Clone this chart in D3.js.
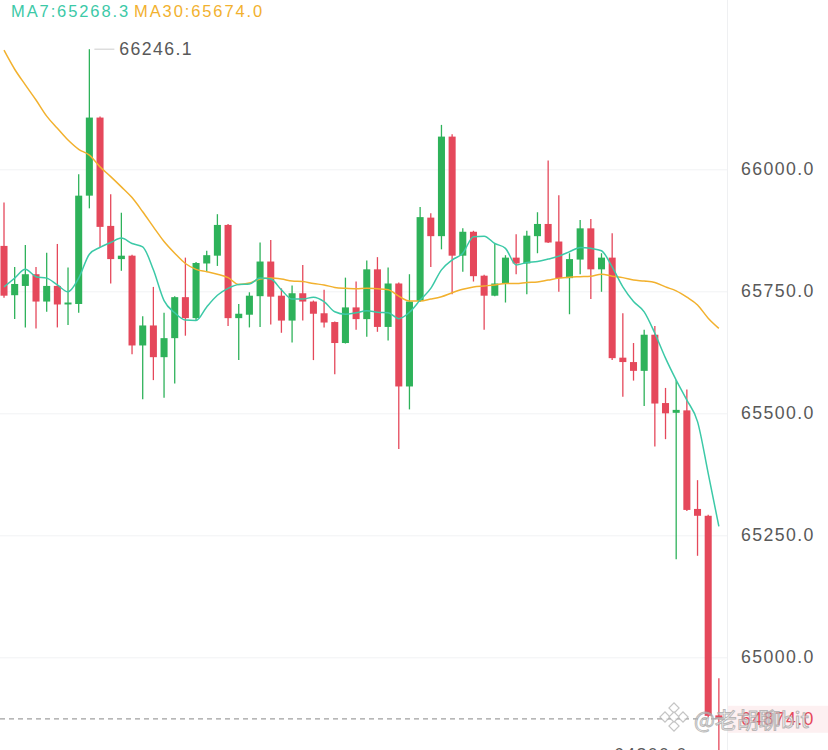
<!DOCTYPE html>
<html><head><meta charset="utf-8">
<script src="https://cdn.jsdelivr.net/npm/d3@7"></script>
<style>html,body{margin:0;padding:0;background:#fff;overflow:hidden}svg{display:block}</style>
</head><body>
<svg id="chart" width="828" height="750"></svg>
<script>
const opens = [65843,65742,65761,65785,65729,65761,65723,65724,65946,66106,65884,65816,65823,65639,65680,65615,65654,65738,65695,65807,65823,65886,65695,65702,65740,65811,65741,65690,65746,65729,65705,65687,65644,65717,65693,65795,65677,65766,65555,65730,65901,65863,66067,65823,65872,65782,65741,65766,65819,65807,65863,65888,65852,65777,65815,65879,65795,65819,65614,65605,65587,65661,65521,65501,65506,65304,65290,64881];
const highs = [65932,65800,65845,65800,65829,65847,65799,65990,66246.1,66108,65949,65911,65825,65699,65759,65706,65740,65819,65810,65833,65908,65888,65724,65748,65850,65855,65756,65762,65804,65731,65753,65688,65778,65770,65813,65820,65799,65768,65785,65923,65910,66091,66072,65879,65874,65784,65848,65824,65867,65874,65912,66018,65947,65828,65896,65898,65828,65869,65705,65644,65671,65679,65552,65568,65549,65363,65292,64957];
const lows = [65737,65693,65676,65674,65708,65676,65681,65706,65920,65840,65766,65792,65621,65529,65568,65532,65561,65659,65691,65790,65802,65679,65609,65676,65677,65682,65665,65645,65690,65609,65676,65580,65643,65671,65657,65667,65649,65427,65508,65728,65800,65836,65744,65790,65770,65671,65740,65727,65785,65744,65828,65849,65749,65703,65785,65734,65749,65609,65534,65567,65515,65432,65447,65201,65300,65208,64877,64800];
const closes = [65741,65765,65785,65729,65761,65723,65727,65946,66106,65882,65816,65823,65639,65680,65615,65654,65738,65695,65808,65824,65886,65695,65704,65741,65811,65739,65690,65746,65729,65704,65686,65644,65717,65693,65795,65677,65766,65555,65729,65902,65863,66067,65823,65872,65781,65741,65766,65819,65807,65864,65888,65850,65777,65816,65879,65795,65819,65613,65605,65587,65661,65520,65500,65507,65302,65290,64880,64874];
const ma7 = [65759,65777,65795,65780,65777,65763,65749,65777,65826,65840,65850,65859,65848,65841,65794,65731,65706,65691,65690,65718,65742,65756,65764,65765,65777,65775,65753,65734,65734,65738,65729,65708,65703,65706,65710,65707,65706,65694,65707,65732,65756,65794,65814,65828,65862,65863,65848,65838,65804,65809,65811,65816,65822,65831,65840,65838,65833,65800,65759,65729,65708,65664,65613,65568,65527,65483,65377,65268.3];
const ma30 = [66244,66205,66173,66142,66109,66084,66060,66041,66029,66005,65985,65964,65942,65913,65882,65852,65828,65807,65795,65790,65785,65778,65764,65767,65775,65777,65775,65771,65770,65766,65763,65758,65756,65755,65756,65755,65753,65740,65730,65730,65734,65739,65747,65754,65759,65761,65763,65766,65766,65768,65769,65773,65777,65779,65780,65781,65785,65781,65778,65773,65771,65768,65759,65751,65738,65722,65695,65674.0];
const yTicks = [65000, 65250, 65500, 65750, 66000];
const lastPrice = 64874.0;
const maxPrice = 66246.1;
const minPrice = 64800.0;
const watermark = "@老胡聊bit";

const W = 828, H = 750, plotRight = 727;
const UP = "#2eb25a", DOWN = "#e5485b", C7 = "#3cc9a7", C30 = "#f2b12e";
const svg = d3.select("#chart");
const n = closes.length;

const x = d3.scaleBand().domain(d3.range(n)).range([-1.33, 724.2]).paddingInner(0.34).paddingOuter(0.17);
const cx = i => x(i) + x.bandwidth() / 2;
const y = d3.scaleLinear().domain([65000, 66000]).range([657.3, 169.3]);

svg.append("defs").append("clipPath").attr("id", "plot")
  .append("rect").attr("x", 0).attr("y", 0).attr("width", plotRight).attr("height", H);

// grid
const grid = svg.append("g").attr("transform", "translate(0,0)")
  .call(d3.axisRight(y).tickValues(yTicks).tickSize(plotRight).tickFormat(""));
grid.select(".domain").remove();
grid.selectAll(".tick line").attr("stroke", "#f1f2f4").attr("stroke-width", 1);

// separator
svg.append("line").attr("x1", plotRight + 0.5).attr("x2", plotRight + 0.5).attr("y1", 0).attr("y2", H)
  .attr("stroke", "#eff0f2").attr("stroke-width", 1);

// axis labels
const axis = svg.append("g").attr("transform", `translate(${plotRight},0)`)
  .call(d3.axisRight(y).tickValues(yTicks).tickSize(0).tickPadding(14).tickFormat(d3.format(".1f")));
axis.select(".domain").remove();
axis.selectAll("text").attr("fill", "#595959").attr("font-family", "'Liberation Sans', Arial, sans-serif")
  .attr("font-size", "17.7px").attr("letter-spacing", "1.4px");

const plot = svg.append("g").attr("clip-path", "url(#plot)");

// candles
const idx = d3.range(n);
plot.selectAll(".wick").data(idx).join("line")
  .attr("x1", cx).attr("x2", cx)
  .attr("y1", i => y(highs[i])).attr("y2", i => y(lows[i]))
  .attr("stroke", i => closes[i] >= opens[i] ? UP : DOWN).attr("stroke-width", 1.3);
plot.selectAll(".body").data(idx).join("rect")
  .attr("x", i => x(i)).attr("width", x.bandwidth())
  .attr("y", i => y(Math.max(opens[i], closes[i])))
  .attr("height", i => Math.max(1.6, Math.abs(y(opens[i]) - y(closes[i]))))
  .attr("fill", i => closes[i] >= opens[i] ? UP : DOWN);

// MA lines
const line = arr => d3.line().x((d, i) => cx(i)).y(d => y(d)).curve(d3.curveMonotoneX)(arr);
plot.append("path").attr("d", line(ma30)).attr("fill", "none").attr("stroke", C30).attr("stroke-width", 1.5);
plot.append("path").attr("d", line(ma7)).attr("fill", "none").attr("stroke", C7).attr("stroke-width", 1.5);

// last price dashed line
svg.append("line").attr("x1", 0).attr("x2", plotRight).attr("y1", y(lastPrice)).attr("y2", y(lastPrice))
  .attr("stroke", "#a0a0a0").attr("stroke-width", 1.2).attr("stroke-dasharray", "5,4");
svg.append("rect").attr("x", plotRight + 1).attr("y", y(lastPrice) - 13).attr("width", W - plotRight).attr("height", 27)
  .attr("fill", "#fdf0f1");
svg.append("text").attr("x", plotRight + 14).attr("y", y(lastPrice)).attr("dy", "0.35em")
  .attr("fill", DOWN).attr("font-family", "'Liberation Sans', Arial, sans-serif")
  .attr("font-size", "17.7px").attr("letter-spacing", "1.4px").text(d3.format(".1f")(lastPrice));

// max label
const iMax = highs.indexOf(d3.max(highs));
svg.append("line").attr("x1", cx(iMax) + 5).attr("x2", cx(iMax) + 25).attr("y1", y(maxPrice)).attr("y2", y(maxPrice))
  .attr("stroke", "#d5d5d5").attr("stroke-width", 1.2);
svg.append("text").attr("x", cx(iMax) + 30).attr("y", y(maxPrice)).attr("dy", "0.35em")
  .attr("fill", "#595959").attr("font-family", "'Liberation Sans', Arial, sans-serif")
  .attr("font-size", "17.7px").attr("letter-spacing", "1.4px").text(d3.format(".1f")(maxPrice));

// min label
const iMin = lows.indexOf(d3.min(lows));
svg.append("line").attr("x1", cx(iMin) - 5).attr("x2", cx(iMin) - 27).attr("y1", y(minPrice)).attr("y2", y(minPrice))
  .attr("stroke", "#d5d5d5").attr("stroke-width", 1.2);
svg.append("text").attr("x", cx(iMin) - 31).attr("y", y(minPrice)).attr("dy", "0.35em").attr("text-anchor", "end")
  .attr("fill", "#595959").attr("font-family", "'Liberation Sans', Arial, sans-serif")
  .attr("font-size", "17.7px").attr("letter-spacing", "1.4px").text(d3.format(".1f")(minPrice));

// legend
const leg = svg.append("text").attr("x", 11).attr("y", 11).attr("dy", "0.35em")
  .attr("font-family", "'Liberation Sans', Arial, sans-serif").attr("font-size", "16.5px").attr("letter-spacing", "1.9px");
leg.append("tspan").attr("fill", C7).text("MA7:" + d3.format(".1f")(ma7[n - 1]));
leg.append("tspan").attr("fill", C30).attr("x", 134).text("MA30:" + d3.format(".1f")(ma30[n - 1]));

// watermark
const wm = svg.append("g").attr("opacity", 0.8);
const lg = wm.append("g").attr("transform", "translate(674,717)");
[[0,-9],[-9,0],[9,0],[0,9],[0,0]].forEach(([dx, dy]) => {
  lg.append("rect").attr("x", dx - 3.6).attr("y", dy - 3.6).attr("width", 7.2).attr("height", 7.2)
    .attr("transform", `rotate(45 ${dx} ${dy})`).attr("fill", "#fff").attr("stroke", "#b8b8b8").attr("stroke-width", 1.2);
});
wm.append("text").attr("x", 694).attr("y", 728)
  .attr("font-family", "'Noto Sans CJK SC', sans-serif").attr("font-size", "22px")
  .attr("fill", "rgba(255,255,255,0.8)").attr("stroke", "#a8a8a8").attr("stroke-width", 1)
  .text(watermark);
</script>
</body></html>
